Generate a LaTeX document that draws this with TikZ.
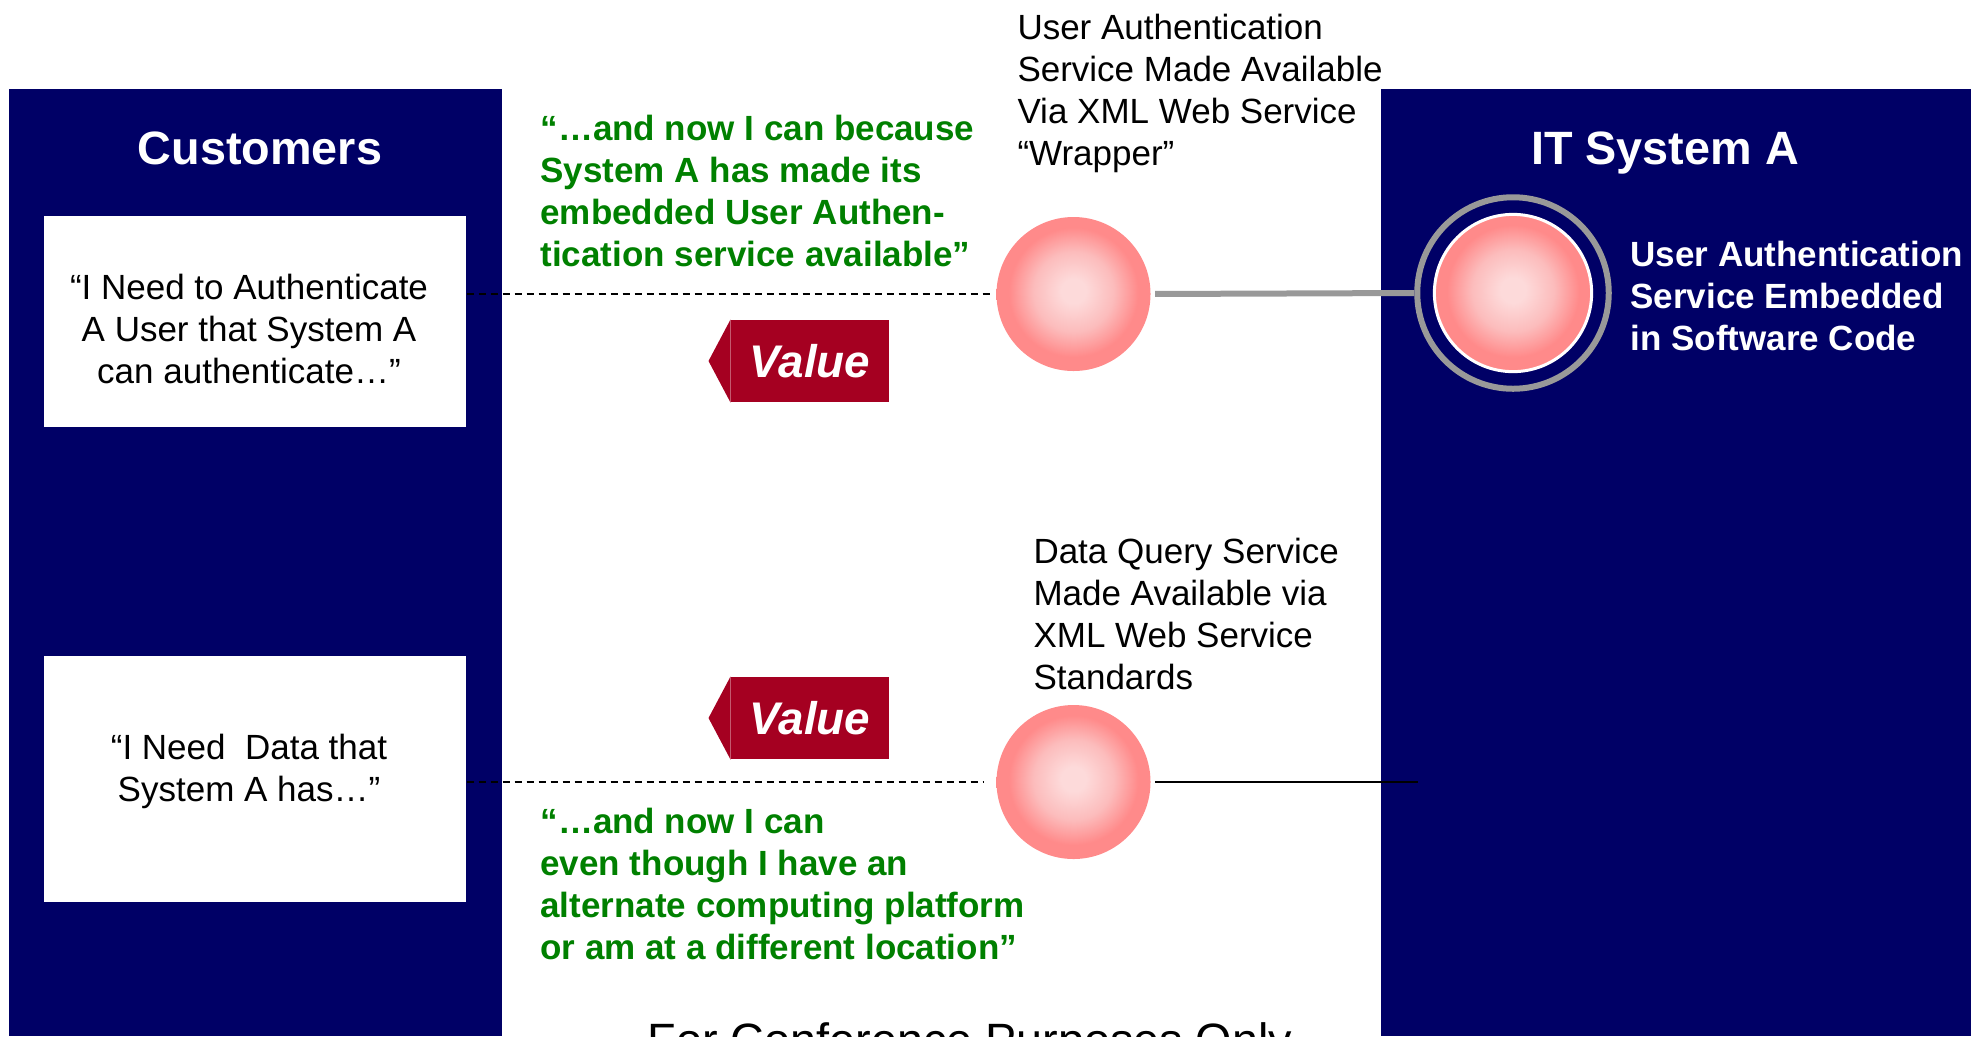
\documentclass[tikz,border=0pt]{standalone}
\usepackage{fontspec}
\setmainfont{Liberation Sans}
\definecolor{navy}{HTML}{000066}
\definecolor{tagred}{HTML}{A50021}
\definecolor{quotegreen}{HTML}{008000}
\definecolor{ringgray}{HTML}{999999}
\definecolor{pinkhi}{HTML}{FDDADA}
\definecolor{pinkmid}{HTML}{FCBCBC}
\definecolor{pinkedge}{HTML}{FF8A8A}
\pgfdeclareradialshading{pinkball}{\pgfpoint{0bp}{1bp}}{%
  color(0bp)=(pinkhi); color(4bp)=(pinkhi); color(13bp)=(pinkmid);
  color(21bp)=(pinkedge); color(25bp)=(pinkedge); color(50bp)=(pinkedge)}
\tikzset{
  panel/.style={fill=navy},
  paneltitle/.style={text=white, anchor=base, font=\bfseries\fontsize{18.7}{22}\selectfont, inner sep=0},
  needbox/.style={fill=white, minimum width=168.8pt, inner sep=0},
  needtext/.style={align=center, inner sep=0, font=\fontsize{14}{16.8}\selectfont},
  plain/.style={align=left, inner sep=0, anchor=west, font=\fontsize{14}{16.8}\selectfont},
  greenquote/.style={align=left, inner sep=0, anchor=west, text=quotegreen,
    font=\bfseries\fontsize{14}{16.8}\selectfont},
  sphere/.style={circle, minimum size=61.6pt, inner sep=0, shading=pinkball},
  valuetag/.style={fill=tagred, text=white, minimum width=63.2pt, minimum height=32.8pt,
    inner sep=0, font=\bfseries\itshape\fontsize{18.3}{22}\selectfont},
  need/.style={dash pattern=on 2.9pt off 1.9pt, line width=0.8pt},
}
\begin{document}
\begin{tikzpicture}[x=0.4pt,y=-0.4pt]
\useasboundingbox (0,0) rectangle (1971,1036);
\clip (0,0) rectangle (1971,1036);

% the two side columns
\fill[panel] (9,89) rectangle (502,1036);
\fill[panel] (1381,89) rectangle (1971,1036);
\node[paneltitle] (custtitle) at (260,164) {Customers};
\node[paneltitle] (systitle) at (1665,164) {IT System A};

% customer needs
\node[needbox, minimum height=84.4pt] (box1) at (255,321.5) {};
\node[needtext] (need1) at (249,329) {“I Need to Authenticate\\A User that System A\\can authenticate…”};
\node[needbox, minimum height=98.4pt] (box2) at (255,779) {};
\node[needtext] (need2) at (249,771) {“I Need\ \ Data that\\System A has…”};

% services
\node[sphere] (svc1) at (1073.5,294) {};
\node[sphere] (svc2) at (1073.5,782) {};
\node[circle, draw=ringgray, line width=2.4pt, minimum size=76.6pt, inner sep=0] (ring) at (1513,293) {};
\node[circle, shading=pinkball, draw=white, line width=1.2pt, minimum size=62.9pt, inner sep=0] (core) at (1513,293) {};

% connectors
\draw[need, shorten >=1.6pt] (box1.east |- svc1.west) -- (svc1.west);
\draw[need, shorten >=5.2pt] (box2.east |- svc2.west) -- (svc2.west);
\draw[ringgray, line width=2.4pt, shorten <=1.6pt] (svc1.east) -- (ring.west);
\coordinate (sysedge) at (1418,782);
\draw[line width=0.8pt, shorten <=1.6pt] (svc2.east) -- (sysedge);

% value tags
\node[valuetag] (val1) at (810,361) {Value};
\fill[tagred] (val1.north west) -- ([xshift=-8.8pt]val1.west) -- (val1.south west) -- cycle;
\node[valuetag] (val2) at (810,718) {Value};
\fill[tagred] (val2.north west) -- ([xshift=-8.8pt]val2.west) -- (val2.south west) -- cycle;

% labels
\node[greenquote] (q1) at (540,190.5) {“…and now I can because\\System A has made its\\embedded User Authen-\\tication service available”};
\node[greenquote] (q2) at (540,883.5) {“…and now I can\\even though I have an\\alternate computing platform\\or am at a different location”};
\node[plain] (lbl1) at (1017,93) {User Authentication\\Service Made Available\\Via XML Web Service\\“Wrapper”};
\node[plain] (lbl2) at (1033,613.5) {Data Query Service\\Made Available via\\XML Web Service\\Standards};
\node[plain, text=white, font=\bfseries\fontsize{14}{16.8}\selectfont] (lbl3) at (1630,296) {User Authentication\\Service Embedded\\in Software Code};

% footer, set low so that only its upper part shows
\node[anchor=base, inner sep=0, font=\fontsize{18.7}{22}\selectfont] (footer) at (970,1056) {For Conference Purposes Only};
\end{tikzpicture}
\end{document}
